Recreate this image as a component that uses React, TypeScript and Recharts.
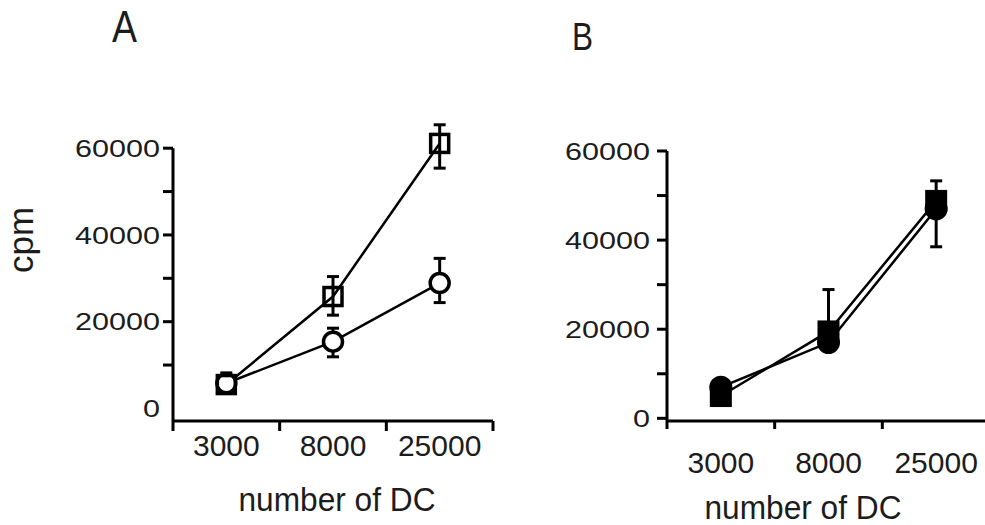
import React from 'react';
import { ErrorBar, Line, LineChart, ReferenceLine, XAxis, YAxis } from 'recharts';

// number of DC per well (x categories)
const doses = ['3000', '8000', '25000'];
const bandEdges = [0, 1, 2, 3];
const bandCenters = [0.5, 1.5, 2.5];
const yTicks = [0, 10000, 20000, 30000, 40000, 50000, 60000];

// panel A: open squares / open circles, errors as [below, above]
const aSquare = [5500, 25800, 61100];
const aSquareErr = [[2000, 2700], [4300, 4600], [5700, 4300]];
const aCircle = [5800, 15400, 28900];
const aCircleErr = [[1500, 1500], [3500, 3100], [4500, 5700]];

// panel B: filled squares / filled circles
const bSquare = [5000, 19500, 48800];
const bSquareErr = [[0, 0], [0, 9400], [0, 4500]];
const bCircle = [7000, 17000, 47000];
const bCircleErr = [[0, 0], [0, 0], [8500, 0]];

const FONT = '"Liberation Sans", Arial, sans-serif';
const INK = '#1c1c1c';

const rowsA = doses.map((d, i) => ({
  x: i + 0.5,
  dose: d,
  sq: aSquare[i],
  sqErr: aSquareErr[i],
  ci: aCircle[i],
  ciErr: aCircleErr[i],
}));

const rowsB = doses.map((d, i) => ({
  x: i + 0.5,
  dose: d,
  sq: bSquare[i],
  sqErr: bSquareErr[i],
  ci: bCircle[i],
  ciErr: bCircleErr[i],
}));

const doseLabel = (v: number) => doses[Math.floor(v)] ?? '';
const NoLabel = () => <g />;

// y tick: label every 20000, short mark on every tick
const YTick = (props: any) => {
  const { x, y, payload, gap, len, zeroMark } = props;
  const v = payload.value as number;
  const label = v % 20000 === 0 ? String(v) : '';
  return (
    <g>
      {(v !== 0 || zeroMark) && (
        <line x1={x + gap} x2={x + gap + len} y1={y} y2={y} stroke="#000" strokeWidth={3} />
      )}
      {label && (
        <text
          x={x}
          y={y}
          dy="0.36em"
          textAnchor="end"
          fontSize={24}
          fill={INK}
          textLength={17 * label.length}
          lengthAdjust="spacingAndGlyphs"
        >
          {label}
        </text>
      )}
    </g>
  );
};

const OpenSquare = (p: any) => (
  <rect key={p.key} x={p.cx - 9} y={p.cy - 9} width={18} height={18} fill="none" stroke="#000" strokeWidth={3.5} />
);
const OpenCircle = (p: any) => (
  <circle key={p.key} cx={p.cx} cy={p.cy} r={9.5} fill="#fff" stroke="#000" strokeWidth={3.5} />
);
const FilledSquare = (p: any) => (
  <rect key={p.key} x={p.cx - 11} y={p.cy - 11} width={22} height={22} fill="#000" />
);
const FilledCircle = (p: any) => (
  <circle key={p.key} cx={p.cx} cy={p.cy} r={11.5} fill="#000" />
);

const App: React.FC = () => (
  <div
    style={{
      position: 'fixed',
      left: 0,
      top: 0,
      width: 985,
      height: 525,
      overflow: 'hidden',
      background: '#fff',
      fontFamily: FONT,
    }}
  >
    {/* panel A */}
    <div style={{ position: 'absolute', left: 0, top: 0 }}>
      <LineChart width={520} height={525} data={rowsA} margin={{ top: 120, right: 27, bottom: 52, left: 0 }}>
        <XAxis
          xAxisId="a"
          dataKey="x"
          type="number"
          domain={[0, 3]}
          ticks={bandEdges}
          interval={0}
          tick={NoLabel}
          tickSize={10}
          height={12}
          axisLine={{ stroke: '#000', strokeWidth: 3 }}
          tickLine={{ stroke: '#000', strokeWidth: 3 }}
        />
        <XAxis
          xAxisId="b"
          dataKey="x"
          type="number"
          domain={[0, 3]}
          ticks={bandCenters}
          interval={0}
          tickFormatter={doseLabel}
          axisLine={false}
          tickLine={false}
          tickSize={0}
          tickMargin={2}
          height={40}
          tick={{ fontSize: 30, fill: INK }}
        />
        <YAxis
          type="number"
          domain={[-2900, 66500]}
          ticks={yTicks}
          interval={0}
          width={173}
          axisLine={false}
          tickLine={false}
          tickSize={10}
          tickMargin={3}
          tick={(p: any) => <YTick {...p} gap={3} len={10} zeroMark={false} />}
        />
        <ReferenceLine
          xAxisId="a"
          segment={[{ x: 0, y: -2900 }, { x: 0, y: 60000 }]}
          stroke="#000"
          strokeWidth={3}
        />
        <Line
          xAxisId="a"
          type="linear"
          dataKey="ci"
          stroke="#000"
          strokeWidth={2.5}
          dot={OpenCircle}
          isAnimationActive={false}
        >
          <ErrorBar dataKey="ciErr" direction="y" width={6} stroke="#000" strokeWidth={3} />
        </Line>
        <Line
          xAxisId="a"
          type="linear"
          dataKey="sq"
          stroke="#000"
          strokeWidth={2.5}
          dot={OpenSquare}
          isAnimationActive={false}
        >
          <ErrorBar dataKey="sqErr" direction="y" width={6} stroke="#000" strokeWidth={3} />
        </Line>
      </LineChart>
    </div>

    {/* panel B */}
    <div style={{ position: 'absolute', left: 540, top: 0 }}>
      <LineChart width={460} height={525} data={rowsB} margin={{ top: 151, right: 10, bottom: 52, left: 0 }}>
        <XAxis
          xAxisId="a"
          dataKey="x"
          type="number"
          domain={[0, 3]}
          ticks={bandEdges}
          interval={0}
          tick={NoLabel}
          tickSize={8}
          height={12}
          axisLine={{ stroke: '#000', strokeWidth: 3 }}
          tickLine={{ stroke: '#000', strokeWidth: 3 }}
        />
        <XAxis
          xAxisId="b"
          dataKey="x"
          type="number"
          domain={[0, 3]}
          ticks={bandCenters}
          interval={0}
          tickFormatter={doseLabel}
          axisLine={false}
          tickLine={false}
          tickSize={0}
          tickMargin={19}
          height={40}
          tick={{ fontSize: 30, fill: INK }}
        />
        <YAxis
          type="number"
          domain={[-600, 60000]}
          ticks={yTicks}
          interval={0}
          width={127}
          axisLine={{ stroke: '#000', strokeWidth: 3 }}
          tickLine={false}
          tickSize={10}
          tickMargin={7}
          tick={(p: any) => <YTick {...p} gap={7} len={10} zeroMark={true} />}
        />
        <Line
          xAxisId="a"
          type="linear"
          dataKey="ci"
          stroke="#000"
          strokeWidth={2.5}
          dot={FilledCircle}
          isAnimationActive={false}
        >
          <ErrorBar dataKey="ciErr" direction="y" width={6} stroke="#000" strokeWidth={3} />
        </Line>
        <Line
          xAxisId="a"
          type="linear"
          dataKey="sq"
          stroke="#000"
          strokeWidth={2.5}
          dot={FilledSquare}
          isAnimationActive={false}
        >
          <ErrorBar dataKey="sqErr" direction="y" width={6} stroke="#000" strokeWidth={3} />
        </Line>
      </LineChart>
    </div>

    {/* panel letters and axis titles */}
    <svg width={985} height={525} style={{ position: 'absolute', left: 0, top: 0, pointerEvents: 'none' }}>
      <text x={112} y={42} fontSize={44} fill={INK} textLength={25} lengthAdjust="spacingAndGlyphs">
        A
      </text>
      <text x={572} y={50} fontSize={39} fill={INK} textLength={21} lengthAdjust="spacingAndGlyphs">
        B
      </text>
      <text x={33} y={240} fontSize={35} fill={INK} textAnchor="middle" transform="rotate(-90 33 240)">
        cpm
      </text>
      <text x={337} y={511} fontSize={33} fill={INK} textAnchor="middle" textLength={197} lengthAdjust="spacingAndGlyphs">
        number of DC
      </text>
      <text x={803} y={519} fontSize={33} fill={INK} textAnchor="middle" textLength={197} lengthAdjust="spacingAndGlyphs">
        number of DC
      </text>
    </svg>
  </div>
);

export default App;
